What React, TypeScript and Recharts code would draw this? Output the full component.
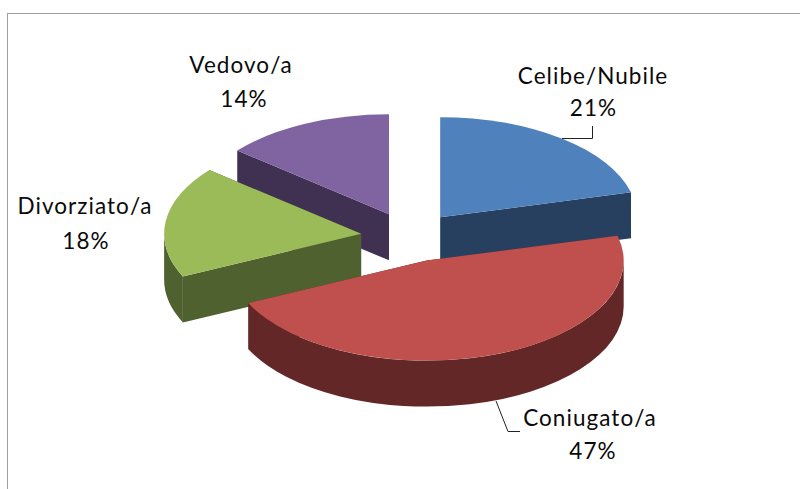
import React from 'react';
import { PieChart, Pie } from 'recharts';

const categories = ['Celibe/Nubile', 'Coniugato/a', 'Divorziato/a', 'Vedovo/a'];
const shares = [21, 47, 18, 14];
const topColors = ['#4f81bd', '#c0504d', '#9bbb59', '#8064a2'];
const sideColors = ['#284060', '#622726', '#4f612f', '#403152'];

// back to front, so red ends up over its neighbours
const drawOrder = [3, 2, 0, 1];

const data = categories.map((name, i) => ({ name, value: shares[i] }));

const SQUASH = 0.508;
const DEPTH = 46;
const EXPLODE = 0.25;

// label centres, name line then percent line
const labelSpots = [
  { x: 593, y: 75, px: 593.5, py: 107 },
  { x: 590, y: 417, px: 593, py: 450 },
  { x: 85, y: 205, px: 86, py: 240 },
  { x: 241, y: 64, px: 244, py: 98 },
];

const leaders = [
  'M562 138.5H592.5V126',
  'M496 401L508 431.5H520',
];

const FONT = 'Lato, "Open Sans", sans-serif';

const Slice = (props: any) => {
  const { cx, cy, outerRadius, startAngle, endAngle, midAngle, index, name, percent, only } = props;
  if (index !== only) return null;

  const rx = outerRadius;
  const ry = outerRadius * SQUASH;
  const ax = cx + Math.cos((midAngle * Math.PI) / 180) * rx * EXPLODE;
  const ay = cy - Math.sin((midAngle * Math.PI) / 180) * ry * EXPLODE;

  // clockwise angle measured from twelve o'clock
  const t0 = 90 - startAngle;
  const t1 = 90 - endAngle;
  const pt = (t: number, drop = 0) => {
    const r = (t * Math.PI) / 180;
    return `${ax + rx * Math.sin(r)} ${ay - ry * Math.cos(r) + drop}`;
  };
  const arc = (to: number, large: boolean, sweep = 1, drop = 0) =>
    `A${rx} ${ry} 0 ${large ? 1 : 0} ${sweep} ${pt(to, drop)}`;

  const top = `M${ax} ${ay}L${pt(t0)}${arc(t1, t1 - t0 > 180)}Z`;
  const cut = (t: number) =>
    `M${ax} ${ay}L${pt(t)}L${pt(t, DEPTH)}L${ax} ${ay + DEPTH}Z`;

  // only the front half of the rim can be seen
  const r0 = Math.max(t0, 90);
  const r1 = Math.min(t1, 270);
  const rim =
    r1 > r0
      ? `M${pt(r0)}${arc(r1, r1 - r0 > 180)}L${pt(r1, DEPTH)}${arc(r0, r1 - r0 > 180, 0, DEPTH)}Z`
      : '';

  const side = sideColors[index];
  const spot = labelSpots[index];
  const textStyle = { fontFamily: FONT, fontSize: 22.5, letterSpacing: 1.05, fill: '#0a0a0a' };

  return (
    <g>
      <path d={cut(t0)} fill={side} />
      <path d={cut(t1)} fill={side} />
      {rim && <path d={rim} fill={side} />}
      <path d={top} fill={topColors[index]} />
      {leaders[index] && <path d={leaders[index]} fill="none" stroke="#222" strokeWidth={1} />}
      <text x={spot.x} y={spot.y} textAnchor="middle" dominantBaseline="central" style={textStyle}>
        {name}
      </text>
      <text x={spot.px} y={spot.py} textAnchor="middle" dominantBaseline="central" style={textStyle}>
        {Math.round(percent * 100)}%
      </text>
    </g>
  );
};

export default function App() {
  return (
    <div style={{ position: 'absolute', left: 0, top: 0, width: 800, height: 489, overflow: 'hidden', background: '#fff' }}>
      <div
        style={{
          position: 'absolute',
          left: 6.5,
          top: 12.5,
          width: 820,
          height: 520,
          border: '1.5px solid #a0a0a0',
        }}
      />
      <PieChart width={800} height={489} margin={{ top: 0, right: 0, bottom: 0, left: 0 }} style={{ position: 'absolute', left: 0, top: 0 }}>
        {drawOrder.map((k) => (
          <Pie
            key={k}
            data={data}
            dataKey="value"
            nameKey="name"
            cx={410}
            cy={237}
            outerRadius={197}
            startAngle={90}
            endAngle={-270}
            stroke="none"
            isAnimationActive={false}
            shape={(p: any) => <Slice {...p} only={k} />}
          />
        ))}
      </PieChart>
    </div>
  );
}
